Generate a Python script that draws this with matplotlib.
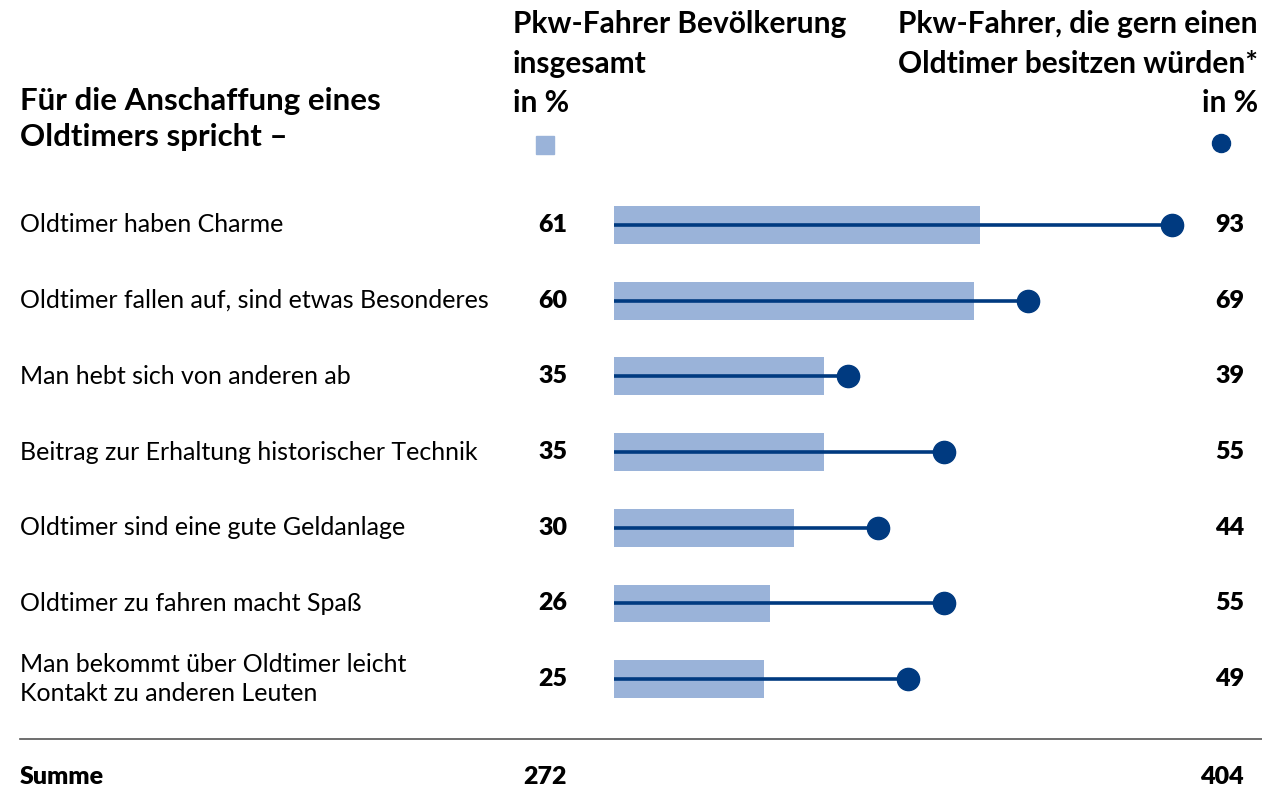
import numpy as np
import matplotlib.pyplot as plt
from matplotlib.transforms import blended_transform_factory
from matplotlib.patches import Rectangle
from matplotlib.lines import Line2D

# Daten
categories = [
    "Oldtimer haben Charme",
    "Oldtimer fallen auf, sind etwas Besonderes",
    "Man hebt sich von anderen ab",
    "Beitrag zur Erhaltung historischer Technik",
    "Oldtimer sind eine gute Geldanlage",
    "Oldtimer zu fahren macht Spaß",
    "Man bekommt über Oldtimer leicht\nKontakt zu anderen Leuten",
]
bevoelkerung = [61, 60, 35, 35, 30, 26, 25]
oldtimer_fans = [93, 69, 39, 55, 44, 55, 49]
summe_bev = 272
summe_fans = 404

BAR = "#9ab3d9"
DARK = "#003a80"
W, H = 1262, 790
FS = 18        # Zeilenbeschriftungen
FS_HEAD = 21.5  # Kopfzeilen

plt.rcParams['font.family'] = ['Lato', 'DejaVu Sans']

fig = plt.figure(figsize=(W / 100, H / 100), dpi=100)


def fx(x):
    return x / W


def fy(y):
    return 1 - y / H


# Achse: x=0 bei Pixel 614, 6 px pro Prozentpunkt
ax = fig.add_axes([fx(614), fy(717), 600 / W, 530 / H])
ax.set_xlim(0, 100)
ax.set_ylim(6.5, -0.5)
ax.axis('off')

y = np.arange(len(categories))
ax.barh(y, bevoelkerung, height=0.5, color=BAR, zorder=1)
for yi, v in zip(y, oldtimer_fans):
    ax.plot([0, v], [yi, yi], color=DARK, lw=2.6, zorder=2, solid_capstyle='butt')
    ax.plot(v, yi, 'o', color=DARK, ms=16, zorder=3, clip_on=False)

tr = blended_transform_factory(fig.transFigure, ax.transData)
for yi, cat, a, b in zip(y, categories, bevoelkerung, oldtimer_fans):
    ax.text(fx(20), yi, cat, transform=tr, ha='left', va='center',
            fontsize=FS, linespacing=1.3, clip_on=False)
    ax.text(fx(567), yi, str(a), transform=tr, ha='right', va='center',
            fontsize=FS, fontweight='heavy', clip_on=False)
    ax.text(fx(1244), yi, str(b), transform=tr, ha='right', va='center',
            fontsize=FS, fontweight='heavy', clip_on=False)

# Kopfzeilen
fig.text(fx(20), fy(119), "Für die Anschaffung eines\nOldtimers spricht –",
         ha='left', va='center', fontsize=22.5, fontweight='bold', linespacing=1.38)
fig.text(fx(513), fy(64), "Pkw-Fahrer Bevölkerung\ninsgesamt\nin %",
         ha='left', va='center', fontsize=FS_HEAD, fontweight='bold', linespacing=1.5)
fig.text(fx(1258), fy(64), "Pkw-Fahrer, die gern einen\nOldtimer besitzen würden*\nin %",
         ha='right', va='center', fontsize=FS_HEAD, fontweight='bold', linespacing=1.5,
         multialignment='right')

# Legendensymbole
fig.add_artist(Rectangle((fx(536), fy(154)), 18 / W, 18 / H, color=BAR,
                         transform=fig.transFigure))
fig.add_artist(Line2D([fx(1221)], [fy(143)], marker='o', color=DARK, ms=13,
                      transform=fig.transFigure))

# Trennlinie und Summe
fig.add_artist(Line2D([fx(20), fx(1262)], [fy(739), fy(739)], color='#555555',
                      lw=1.2, transform=fig.transFigure))
fig.text(fx(20), fy(777), "Summe", ha='left', va='center', fontsize=FS, fontweight='heavy')
fig.text(fx(567), fy(777), str(summe_bev), ha='right', va='center', fontsize=FS, fontweight='heavy')
fig.text(fx(1244), fy(777), str(summe_fans), ha='right', va='center', fontsize=FS, fontweight='heavy')

fig.savefig("out.png", dpi=100)
